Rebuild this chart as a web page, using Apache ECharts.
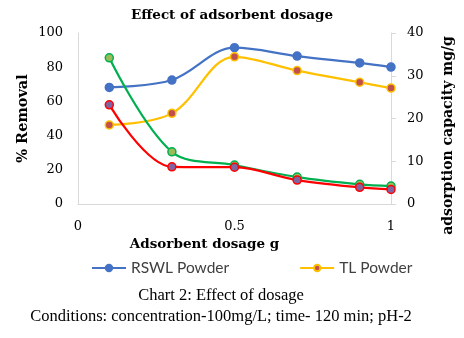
<!DOCTYPE html>
<html>
<head>
<meta charset="utf-8">
<script src="https://cdn.jsdelivr.net/npm/echarts@6/dist/echarts.min.js"></script>
<style>
  html, body { margin: 0; padding: 0; background: #fff; }
  #chart { width: 464px; height: 338px; }
</style>
</head>
<body>
<div id="chart"></div>
<script>
// Adsorbent dosage (g)
const dosage = [0.1, 0.3, 0.5, 0.7, 0.9, 1.0];
// % removal (left axis)
const rswlRemoval = [68.2, 72.5, 91.4, 86.5, 82.5, 80.1];
const tlRemoval = [46.2, 53.0, 86.1, 78.0, 71.2, 67.8];
// Adsorption capacity, mg/g (right axis)
const rswlCapacity = [34.2, 12.2, 9.1, 6.3, 4.6, 4.2];
const tlCapacity = [23.2, 8.7, 8.6, 5.6, 3.9, 3.4];
// Axis ticks
const xTicks = [0, 0.5, 1];
const leftTicks = [0, 20, 40, 60, 80, 100];
const rightTicks = [0, 10, 20, 30, 40];

const pairs = (xs, ys) => xs.map((x, i) => [x, ys[i]]);
const serif = 'DejaVu Serif';

function lineSeries(name, data, axis, lineColor, fill) {
  return {
    name: name,
    type: 'line',
    yAxisIndex: axis,
    data: pairs(dosage, data),
    smooth: 0.35,
    symbol: 'circle',
    symbolSize: 8,
    lineStyle: { color: lineColor, width: 2.25 },
    itemStyle: { color: fill, borderColor: lineColor, borderWidth: 1.5 }
  };
}

const chart = echarts.init(document.getElementById('chart'), null, { renderer: 'canvas' });
chart.setOption({
  animation: false,
  backgroundColor: '#fff',
  title: {
    text: 'Effect of adsorbent dosage',
    left: 'center',
    top: 3,
    textStyle: { fontFamily: serif, fontWeight: 'bold', fontSize: 13.5, color: '#000' }
  },
  grid: { left: 78, right: 73, top: 33, bottom: 134, containLabel: false },
  legend: {
    data: ['RSWL Powder', 'TL Powder'],
    top: 255,
    left: 86,
    itemGap: 70,
    itemWidth: 34,
    itemHeight: 8,
    textStyle: { fontFamily: 'Lato', fontSize: 15.5, color: '#404040' }
  },
  xAxis: {
    type: 'value',
    min: 0,
    max: 1,
    interval: 0.5,
    name: 'Adsorbent dosage g',
    nameLocation: 'middle',
    nameGap: 30,
    nameTextStyle: { fontFamily: serif, fontWeight: 'bold', fontSize: 13.5, color: '#000', padding: [0, 60, 0, 0] },
    axisLine: { lineStyle: { color: '#D9D9D9', width: 1 } },
    axisTick: { show: false },
    splitLine: { show: false },
    axisLabel: {
      margin: 16,
      fontFamily: serif, fontSize: 13, color: '#000',
      formatter: v => (xTicks.includes(v) ? String(v) : '')
    }
  },
  yAxis: [
    {
      type: 'value',
      min: 0,
      max: 100,
      interval: 20,
      name: '% Removal',
      nameLocation: 'middle',
      nameGap: 47,
      nameMoveOverlap: false,
      nameTextStyle: { fontFamily: serif, fontWeight: 'bold', fontSize: 14.5, color: '#000' },
      axisLine: { show: true, lineStyle: { color: '#D9D9D9', width: 1 } },
      axisTick: { show: false },
      splitLine: { show: false },
      axisLabel: {
        margin: 15,
        fontFamily: serif, fontSize: 13, color: '#000',
        formatter: v => (leftTicks.includes(v) ? String(v) : '')
      }
    },
    {
      type: 'value',
      min: 0,
      max: 40,
      interval: 10,
      name: 'adsorption capacity mg/g',
      nameLocation: 'middle',
      nameGap: 50,
      nameRotate: 90,
      nameTextStyle: { fontFamily: serif, fontWeight: 'bold', fontSize: 14, color: '#000', padding: [0, 34, 0, 0] },
      axisLine: { show: true, lineStyle: { color: '#D9D9D9', width: 1 } },
      axisTick: { show: true, length: 5, lineStyle: { color: '#D9D9D9' } },
      splitLine: { show: false },
      axisLabel: {
        margin: 16,
        fontFamily: serif, fontSize: 13, color: '#000',
        formatter: v => (rightTicks.includes(v) ? String(v) : '')
      }
    }
  ],
  series: [
    lineSeries('RSWL Powder', rswlRemoval, 0, '#4472C4', '#4472C4'),
    lineSeries('TL Powder', tlRemoval, 0, '#FFC000', '#C0504D'),
    lineSeries('RSWL capacity', rswlCapacity, 1, '#00B050', '#9BBB59'),
    lineSeries('TL capacity', tlCapacity, 1, '#FF0000', '#8064A2')
  ],
  graphic: [
    {
      type: 'text',
      x: 221,
      y: 287,
      style: { text: 'Chart 2: Effect of dosage', align: 'center', verticalAlign: 'top', font: '16.5px "Liberation Serif"', fill: '#000' }
    },
    {
      type: 'text',
      x: 221,
      y: 308,
      style: { text: 'Conditions: concentration-100mg/L; time- 120 min; pH-2', align: 'center', verticalAlign: 'top', font: '16.5px "Liberation Serif"', fill: '#000' }
    }
  ]
});
</script>
</body>
</html>
